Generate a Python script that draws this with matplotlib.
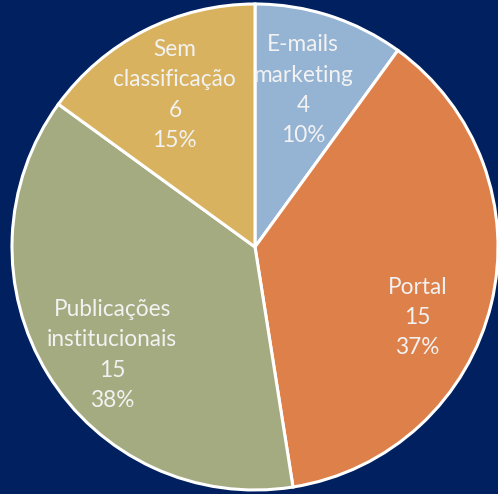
import numpy as np
import matplotlib
matplotlib.use("Agg")
from matplotlib import pyplot as plt

categories = ["E-mails\nmarketing", "Portal", "Publicações\ninstitucionais", "Sem\nclassificação"]
values = [4, 15, 15, 6]
percent_labels = ["10%", "37%", "38%", "15%"]
colors = ["#95B3D3", "#DD804A", "#A5AB80", "#D8B25F"]

# label placement (fraction of radius, angle shift in degrees)
label_radius = [0.675, 0.73, 0.737, 0.707]
label_shift = [1, -10, 5.6, 0.8]

W, H = 498, 494
fig = plt.figure(figsize=(W / 100, H / 100), dpi=100)
fig.patch.set_facecolor("#002060")
cx, cy, R = 255, 247, 243
ax = fig.add_axes([(cx - R) / W, (H - cy - R) / H, 2 * R / W, 2 * R / H])
ax.set_facecolor("#002060")

wedges, _ = ax.pie(values, colors=colors, startangle=90, counterclock=False,
                   wedgeprops=dict(edgecolor="white", linewidth=2.2))

for i, w in enumerate(wedges):
    ang = np.deg2rad((w.theta1 + w.theta2) / 2 + label_shift[i])
    r = label_radius[i]
    txt = "{}\n{}\n{}".format(categories[i], values[i], percent_labels[i])
    ax.text(r * np.cos(ang), r * np.sin(ang), txt, ha="center", va="center",
            color="#F2F2F2", fontsize=16.3, family="Lato", linespacing=1.54)

ax.set_xlim(-1.0, 1.0)
ax.set_ylim(-1.0, 1.0)
ax.axis("off")

fig.savefig("out.png", dpi=100, facecolor=fig.get_facecolor())
